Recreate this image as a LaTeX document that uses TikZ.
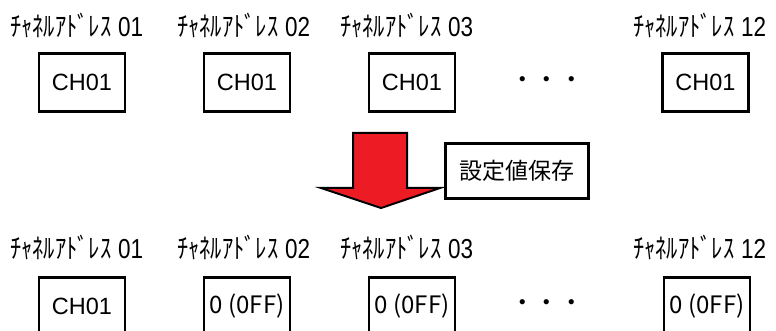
\documentclass[tikz,border=0pt]{standalone}
\usepackage{fontspec}
\setmainfont{Liberation Sans}
\newfontfamily\jp{Noto Sans CJK JP}
\definecolor{arrowred}{HTML}{ED1C24}
\newcommand{\addrtxt}[1]{\scalebox{1}[1.22]{{\jp ﾁｬﾈﾙｱﾄﾞﾚｽ}\hspace{0.5pt} #1}}
\begin{document}
\begin{tikzpicture}[x=1pt,y=-1pt,
  chbox/.style={draw, line width=2.2pt, minimum width=86pt, minimum height=58pt, inner sep=0pt, font=\fontsize{23.5}{24}\selectfont},
  offbox/.style={chbox, font=\jp\fontsize{24}{24}\selectfont},
  addr/.style={anchor=west, inner sep=0pt, font=\fontsize{22.5}{24}\selectfont},
  dots/.style={inner sep=0pt, font=\jp\fontsize{24.5}{25}\selectfont}]
\clip (0,0) rectangle (776,331);
% top row
\node[addr] (ta1) at (10,25) {\addrtxt{01}};
\node[addr] (ta2) at (177,25) {\addrtxt{02}};
\node[addr] (ta3) at (340,25) {\addrtxt{03}};
\node[addr] (ta4) at (633,25) {\addrtxt{12}};
\node[chbox] (tb1) at (82,82.5) {CH01};
\node[chbox] (tb2) at (247,82.5) {CH01};
\node[chbox] (tb3) at (412,82.5) {CH01};
\node[chbox] (tb4) at (705.5,82.5) {CH01};
\node[dots] (td) at (547,83) {・・・};
% arrow
\draw[line width=2pt, fill=arrowred, line join=miter]
  (353,133) -- (407,133) -- (407,188) -- (440,188) -- (381,208) -- (321,188) -- (353,188) -- cycle;
\node[draw, line width=2.2pt, minimum width=143pt, minimum height=55pt, inner sep=0pt, font=\jp\fontsize{23}{24}\selectfont] (save) at (517,171) {\raisebox{-3pt}{設定値保存}};
% bottom row
\node[addr] (ba1) at (10,247) {\addrtxt{01}};
\node[addr] (ba2) at (177,247) {\addrtxt{02}};
\node[addr] (ba3) at (340,247) {\addrtxt{03}};
\node[addr] (ba4) at (633,247) {\addrtxt{12}};
\node[chbox] (bb1) at (82,306.5) {CH01};
\node[offbox] (bb2) at (247,306.5) {\raisebox{-1pt}{0 (0FF)}};
\node[offbox] (bb3) at (412,306.5) {\raisebox{-1pt}{0 (0FF)}};
\node[offbox] (bb4) at (707,306.5) {\raisebox{-1pt}{0 (0FF)}};
\node[dots] (bd) at (547,306) {・・・};
\end{tikzpicture}
\end{document}
